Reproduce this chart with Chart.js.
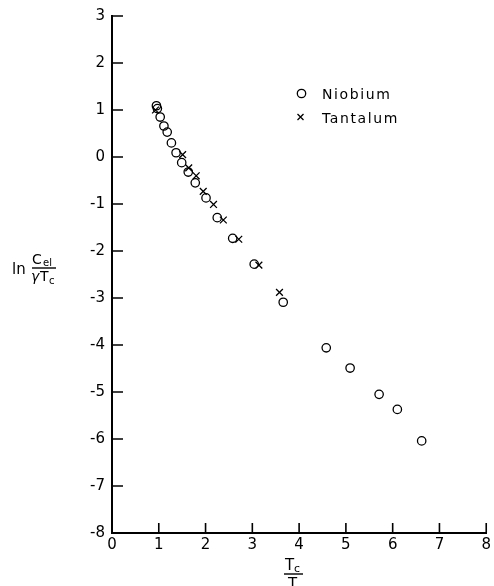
<!DOCTYPE html>
<html>
<head>
<meta charset="utf-8">
<script src="https://cdn.jsdelivr.net/npm/chart.js@4"></script>
<style>
html,body{margin:0;padding:0;background:#fff;}
#wrap{width:494px;height:586px;position:relative;}
</style>
</head>
<body>
<div id="wrap"><canvas id="c" width="494" height="586"></canvas></div>
<script>
const niobiumX = [0.95, 0.97, 1.03, 1.11, 1.18, 1.27, 1.37, 1.49, 1.63, 1.78, 2.01, 2.25, 2.58, 3.04, 3.66, 4.58, 5.09, 5.71, 6.10, 6.62];
const niobiumY = [1.09, 1.03, 0.85, 0.66, 0.53, 0.30, 0.09, -0.12, -0.32, -0.55, -0.87, -1.29, -1.73, -2.28, -3.09, -4.06, -4.49, -5.05, -5.37, -6.04];
const tantalumX = [0.93, 1.51, 1.64, 1.80, 1.95, 2.17, 2.38, 2.71, 3.14, 3.58];
const tantalumY = [1.00, 0.05, -0.23, -0.40, -0.73, -1.01, -1.34, -1.75, -2.30, -2.88];
const xTickLabels = ['0','1','2','3','4','5','6','7','8'];
const yTickLabels = ['-8','-7','-6','-5','-4','-3','-2','-1','0','1','2','3'];
const seriesNames = ['Niobium','Tantalum'];

const FONT = '"DejaVu Sans", sans-serif';

const inwardTicks = {
  id: 'inwardTicks',
  afterDraw(chart) {
    const ctx = chart.ctx;
    const xs = chart.scales.x, ys = chart.scales.y;
    const a = chart.chartArea;
    ctx.save();
    ctx.strokeStyle = '#000';
    ctx.lineWidth = 1.6;
    ctx.beginPath();
    xs.ticks.forEach(t => {
      if (t.value === 0) return;
      const px = xs.getPixelForValue(t.value);
      ctx.moveTo(px, a.bottom);
      ctx.lineTo(px, a.bottom - 10);
    });
    ys.ticks.forEach(t => {
      if (t.value === -8) return;
      const py = ys.getPixelForValue(t.value);
      ctx.moveTo(a.left, py);
      ctx.lineTo(a.left + 11, py);
    });
    ctx.stroke();
    ctx.restore();
  }
};

const titlesAndLegend = {
  id: 'titlesAndLegend',
  afterDraw(chart) {
    const ctx = chart.ctx;
    ctx.save();
    ctx.fillStyle = '#000';
    ctx.strokeStyle = '#000';
    // y title: ln Cel / γTc
    ctx.textBaseline = 'alphabetic';
    ctx.textAlign = 'left';
    ctx.font = '15px ' + FONT;
    ctx.fillText('ln', 12, 274);
    ctx.font = '14px ' + FONT;
    ctx.fillText('C', 32, 264);
    ctx.font = '10px ' + FONT;
    ctx.fillText('el', 43, 266);
    ctx.lineWidth = 1.4;
    ctx.beginPath(); ctx.moveTo(32, 268); ctx.lineTo(56, 268); ctx.stroke();
    ctx.font = 'italic 14px ' + FONT;
    ctx.fillText('γ', 31, 281);
    ctx.font = '14px ' + FONT;
    ctx.fillText('T', 40, 281);
    ctx.font = '10px ' + FONT;
    ctx.fillText('c', 49, 284);
    // x title: Tc / T
    ctx.font = '15px ' + FONT;
    ctx.fillText('T', 285, 570);
    ctx.font = '11px ' + FONT;
    ctx.fillText('c', 294, 572);
    ctx.beginPath(); ctx.moveTo(284, 574); ctx.lineTo(303, 574); ctx.stroke();
    ctx.font = '15px ' + FONT;
    ctx.fillText('T', 288, 589);
    // legend
    ctx.lineWidth = 1.3;
    ctx.beginPath(); ctx.arc(301.5, 93.5, 4.2, 0, Math.PI * 2); ctx.stroke();
    ctx.beginPath();
    ctx.moveTo(297.5, 114); ctx.lineTo(303.5, 120);
    ctx.moveTo(303.5, 114); ctx.lineTo(297.5, 120);
    ctx.stroke();
    ctx.font = '14px ' + FONT;
    if ('letterSpacing' in ctx) ctx.letterSpacing = '1.6px';
    ctx.fillText(seriesNames[0], 322, 98.5);
    ctx.fillText(seriesNames[1], 322, 122.5);
    ctx.restore();
  }
};

new Chart(document.getElementById('c'), {
  type: 'scatter',
  data: {
    datasets: [
      {
        label: seriesNames[0],
        data: niobiumX.map((x, i) => ({x, y: niobiumY[i]})),
        pointStyle: 'circle',
        pointRadius: 4.2,
        pointBorderWidth: 1.3,
        borderColor: '#000',
        backgroundColor: 'rgba(0,0,0,0)'
      },
      {
        label: seriesNames[1],
        data: tantalumX.map((x, i) => ({x, y: tantalumY[i]})),
        pointStyle: 'crossRot',
        pointRadius: 4.8,
        pointBorderWidth: 1.3,
        borderColor: '#000',
        backgroundColor: '#000'
      }
    ]
  },
  options: {
    responsive: false,
    animation: false,
    devicePixelRatio: 1,
    layout: { padding: { left: 0, top: 16, right: 4, bottom: 0 } },
    plugins: { legend: { display: false }, tooltip: { enabled: false } },
    scales: {
      x: {
        type: 'linear', min: 0, max: 8,
        afterFit(s) { s.height = 53; },
        grid: { display: false, drawTicks: false },
        border: { display: true, color: '#000', width: 2 },
        ticks: {
          stepSize: 1, padding: 3, color: '#000',
          font: { family: FONT, size: 15 },
          callback: (v) => xTickLabels[Math.round(v)]
        }
      },
      y: {
        type: 'linear', min: -8, max: 3,
        afterFit(s) { s.width = 112; },
        grid: { display: false, drawTicks: false },
        border: { display: true, color: '#000', width: 2 },
        ticks: {
          stepSize: 1, padding: 7, color: '#000',
          font: { family: FONT, size: 15 },
          callback: (v) => yTickLabels[Math.round(v) + 8]
        }
      }
    }
  },
  plugins: [inwardTicks, titlesAndLegend]
});
</script>
</body>
</html>
